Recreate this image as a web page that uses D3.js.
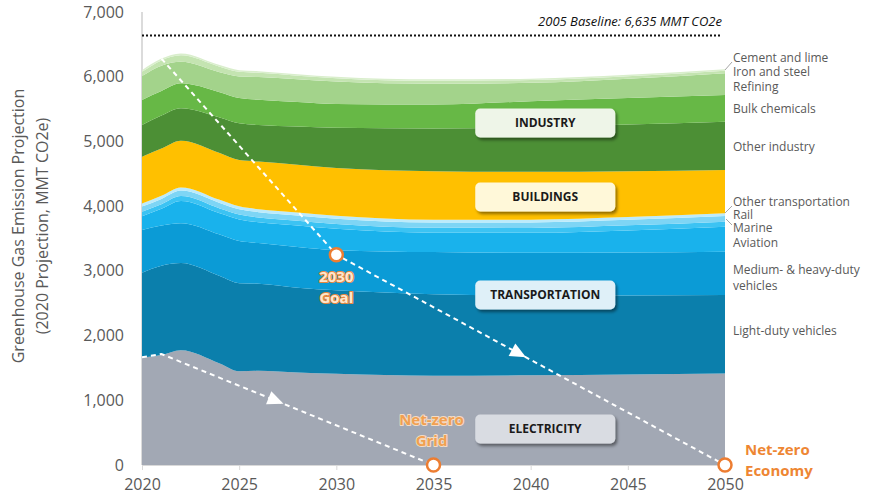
<!DOCTYPE html>
<html>
<head>
<meta charset="utf-8">
<script src="https://cdn.jsdelivr.net/npm/d3@7"></script>
<style>
  body { margin: 0; background: #fff; }
  svg { display: block; }
  text { font-family: "Open Sans", "Noto Sans", sans-serif; }
</style>
</head>
<body>
<svg id="chart" width="871" height="499"></svg>
<script>
// Projection years
const years = [2020, 2021, 2022, 2024, 2025, 2026, 2028, 2030, 2035, 2040, 2045, 2050];

// Emissions by sector (MMT CO2e), stacked bottom to top
const electricity        = [1664, 1700, 1775, 1570, 1450, 1455, 1430, 1410, 1380, 1385, 1400, 1415];
const lightDutyVehicles  = [1308, 1380, 1345, 1350, 1360, 1345, 1310, 1290, 1260, 1235, 1220, 1212];
const mediumHeavyDuty    = [ 660,  620,  615,  640,  650,  630,  630,  620,  650,  660,  665,  669];
const aviation           = [ 210,  260,  345,  330,  335,  320,  330,  330,  300,  307,  340,  384];
const marine             = [  72,   70,   75,   75,   75,   75,   75,   75,   75,   77,   78,   80];
const rail               = [  80,   82,   85,   85,   82,   82,   82,   82,   82,   84,   86,   88];
const otherTransport     = [  46,   48,   50,   48,   45,   45,   44,   43,   42,   42,   42,   42];
const buildings          = [ 724,  730,  722,  722,  716,  738,  739,  740,  751,  740,  709,  669];
const otherIndustry      = [ 490,  510,  500,  550,  567,  565,  590,  620,  660,  690,  720,  746];
const bulkChemicals      = [ 387,  380,  386,  390,  390,  390,  380,  370,  370,  400,  410,  413];
const refining           = [ 369,  390,  332,  310,  335,  350,  350,  345,  320,  285,  298,  335];
const ironAndSteel       = [  65,   82,  100,   85,   70,   65,   56,   52,   47,   43,   40,   40];
const cementAndLime      = [  25,   28,   30,   25,   25,   25,   24,   23,   23,   22,   22,   22];

const baseline2005 = 6635;

// Pathways toward net zero: [year, MMT CO2e]
const economyPath = [[2021, 6280], [2030, 3250], [2050, 0]];
const gridPath    = [[2020, 1664], [2021, 1715], [2035, 0]];

const yTicks = [0, 1000, 2000, 3000, 4000, 5000, 6000, 7000];
const xTicks = [2020, 2025, 2030, 2035, 2040, 2045, 2050];

const seriesList = [
  { key: "Electricity",                   values: electricity,       color: "#a2a8b4" },
  { key: "Light-duty vehicles",           values: lightDutyVehicles, color: "#0b7fac" },
  { key: "Medium- & heavy-duty vehicles", values: mediumHeavyDuty,   color: "#0b9bd6" },
  { key: "Aviation",                      values: aviation,          color: "#19b2ec" },
  { key: "Marine",                        values: marine,            color: "#3cc3f3" },
  { key: "Rail",                          values: rail,              color: "#7ed5f5" },
  { key: "Other transportation",          values: otherTransport,    color: "#bcebfb" },
  { key: "Buildings",                     values: buildings,         color: "#ffc000" },
  { key: "Other industry",                values: otherIndustry,     color: "#4c8f35" },
  { key: "Bulk chemicals",                values: bulkChemicals,     color: "#67b846" },
  { key: "Refining",                      values: refining,          color: "#a3d38b" },
  { key: "Iron and steel",                values: ironAndSteel,      color: "#c4e4b1" },
  { key: "Cement and lime",               values: cementAndLime,     color: "#d9eecc" }
];

const rows = years.map((yr, i) => {
  const r = { year: yr };
  seriesList.forEach(s => r[s.key] = s.values[i]);
  return r;
});

const svg = d3.select("#chart");
const x = d3.scaleLinear().domain([2020, 2050]).range([142, 725]);
const y = d3.scaleLinear().domain([0, 7000]).range([465, 12]);

// drop shadow for the sector boxes
const defs = svg.append("defs");
const f = defs.append("filter").attr("id", "shadow").attr("x", "-10%").attr("y", "-20%").attr("width", "130%").attr("height", "160%");
f.append("feDropShadow").attr("dx", 2).attr("dy", 2.5).attr("stdDeviation", 1.5)
  .attr("flood-color", "#000").attr("flood-opacity", 0.45);

// y axis line
svg.append("line").attr("x1", x(2020)).attr("x2", x(2020))
  .attr("y1", y(7000)).attr("y2", y(0)).attr("stroke", "#cfcfcf").attr("stroke-width", 1.5);

// stacked areas
const stack = d3.stack().keys(seriesList.map(s => s.key));
const layers = stack(rows);
const area = d3.area()
  .x(d => x(d.data.year))
  .y0(d => y(d[0]))
  .y1(d => y(d[1]))
  .curve(d3.curveMonotoneX);

svg.append("g").selectAll("path").data(layers).join("path")
  .attr("d", area)
  .attr("fill", (d, i) => seriesList[i].color);

// x axis
const xAxis = svg.append("g").attr("transform", `translate(0,${y(0)})`)
  .call(d3.axisBottom(x).tickValues(xTicks).tickFormat(d3.format("d")).tickSize(5).tickSizeOuter(0));
xAxis.select(".domain").attr("stroke", "#d9d9d9");
xAxis.selectAll(".tick line").attr("stroke", "#d9d9d9");
xAxis.selectAll(".tick text").attr("fill", "#595959").style("font-size", "16px")
  .style("font-family", "'Open Sans', sans-serif").attr("dy", "1.05em");

// y axis
const yAxis = svg.append("g").attr("transform", `translate(${x(2020)},0)`)
  .call(d3.axisLeft(y).tickValues(yTicks).tickFormat(d3.format(",")).tickSize(0).tickPadding(18));
yAxis.select(".domain").remove();
yAxis.selectAll(".tick text").attr("fill", "#595959").style("font-size", "16px")
  .style("font-family", "'Open Sans', sans-serif");

// y axis title
const yt = svg.append("text").attr("transform", "translate(24,226) rotate(-90)")
  .attr("text-anchor", "middle").attr("fill", "#595959").style("font-size", "16px");
yt.append("tspan").attr("x", 0).attr("y", 0).text("Greenhouse Gas Emission Projection");
yt.append("tspan").attr("x", 0).attr("y", 24).text("(2020 Projection, MMT CO2e)");

// 2005 baseline
svg.append("line").attr("x1", x(2020)).attr("x2", x(2050) - 3)
  .attr("y1", y(baseline2005)).attr("y2", y(baseline2005))
  .attr("stroke", "#111").attr("stroke-width", 2).attr("stroke-dasharray", "2,2");
svg.append("text").attr("x", x(2050) - 3).attr("y", y(baseline2005) - 10)
  .attr("text-anchor", "end").attr("fill", "#111").style("font-size", "13px").style("font-style", "italic")
  .text("2005 Baseline: 6,635 MMT CO2e");

// sector boxes
const boxes = [
  { label: "INDUSTRY",       cy: 123, fill: "#eef5e8" },
  { label: "BUILDINGS",      cy: 197, fill: "#fff8d9" },
  { label: "TRANSPORTATION", cy: 295, fill: "#dff0f8" },
  { label: "ELECTRICITY",    cy: 429, fill: "#d9dce2" }
];
const bx = x(2040.75), bw = 140, bh = 29;
const bg = svg.append("g").selectAll("g").data(boxes).join("g");
bg.append("rect").attr("x", bx - bw / 2).attr("y", d => d.cy - bh / 2)
  .attr("width", bw).attr("height", bh).attr("rx", 5)
  .attr("fill", d => d.fill).attr("filter", "url(#shadow)");
bg.append("text").attr("x", bx).attr("y", d => d.cy).attr("dy", "0.36em")
  .attr("text-anchor", "middle").attr("fill", "#1a1a1a")
  .style("font-size", "12px").style("font-weight", "700").text(d => d.label);

// pathways
const line = d3.line().x(d => x(d[0])).y(d => y(d[1]));
[economyPath, gridPath].forEach(p => {
  svg.append("path").attr("d", line(p)).attr("fill", "none")
    .attr("stroke", "#fff").attr("stroke-width", 2).attr("stroke-dasharray", "5,4");
});

// arrowheads along pathways
function arrowAt(p0, p1, yr) {
  const t = (yr - p0[0]) / (p1[0] - p0[0]);
  const px = x(yr), py = y(p0[1] + t * (p1[1] - p0[1]));
  const ang = Math.atan2(y(p1[1]) - y(p0[1]), x(p1[0]) - x(p0[0])) * 180 / Math.PI;
  svg.append("path").attr("d", "M8,0 L-8,-7 L-8,7 Z").attr("fill", "#fff")
    .attr("transform", `translate(${px},${py}) rotate(${ang})`);
}
arrowAt(gridPath[1], gridPath[2], 2026.9);
arrowAt(economyPath[1], economyPath[2], 2039.4);

// milestone circles
const milestones = [economyPath[1], gridPath[2], economyPath[2]];
svg.append("g").selectAll("circle").data(milestones).join("circle")
  .attr("cx", d => x(d[0])).attr("cy", d => y(d[1])).attr("r", 6.5)
  .attr("fill", "#fff").attr("stroke", "#ed7d31").attr("stroke-width", 2.5);

// milestone labels
function label2(lines, xx, yy, anchor, style) {
  const t = svg.append("text").attr("text-anchor", anchor)
    .style("font-size", "15px").style("font-weight", "700")
    .attr("fill", style.fill);
  if (style.stroke) t.attr("stroke", style.stroke).attr("stroke-width", style.sw).attr("paint-order", "stroke")
    .attr("stroke-linejoin", "round");
  lines.forEach((s, i) => t.append("tspan").attr("x", xx).attr("y", yy + i * 21).text(s));
}
label2(["2030", "Goal"], x(2030), 282, "middle", { fill: "#fde7cf", stroke: "#e8883e", sw: 2 });
label2(["Net-zero", "Grid"], x(2035) - 2, 425, "middle", { fill: "#f1a050", stroke: "#f3dcc6", sw: 2 });
label2(["Net-zero", "Economy"], 745, 455, "start", { fill: "#ee8633" });

// right-hand sector labels
const sideLabels = [
  { text: ["Cement and lime"], y: 58, leader: [[732, 62], [725, 70]] },
  { text: ["Iron and steel"], y: 72 },
  { text: ["Refining"], y: 87 },
  { text: ["Bulk chemicals"], y: 109 },
  { text: ["Other industry"], y: 147 },
  { text: ["Other transportation"], y: 202, leader: [[732, 206], [725, 213]] },
  { text: ["Rail"], y: 215 },
  { text: ["Marine"], y: 228, leader: [[732, 225], [726, 219]] },
  { text: ["Aviation"], y: 243 },
  { text: ["Medium- & heavy-duty", "vehicles"], y: 270 },
  { text: ["Light-duty vehicles"], y: 331 }
];
const sl = svg.append("g");
sideLabels.forEach(d => {
  const t = sl.append("text").attr("fill", "#595959").style("font-size", "12px");
  d.text.forEach((s, i) => t.append("tspan").attr("x", 733).attr("y", d.y + i * 16).attr("dy", "0.35em").text(s));
  if (d.leader) sl.append("path").attr("d", d3.line()(d.leader)).attr("stroke", "#a6a6a6").attr("fill", "none");
});
</script>
</body>
</html>
